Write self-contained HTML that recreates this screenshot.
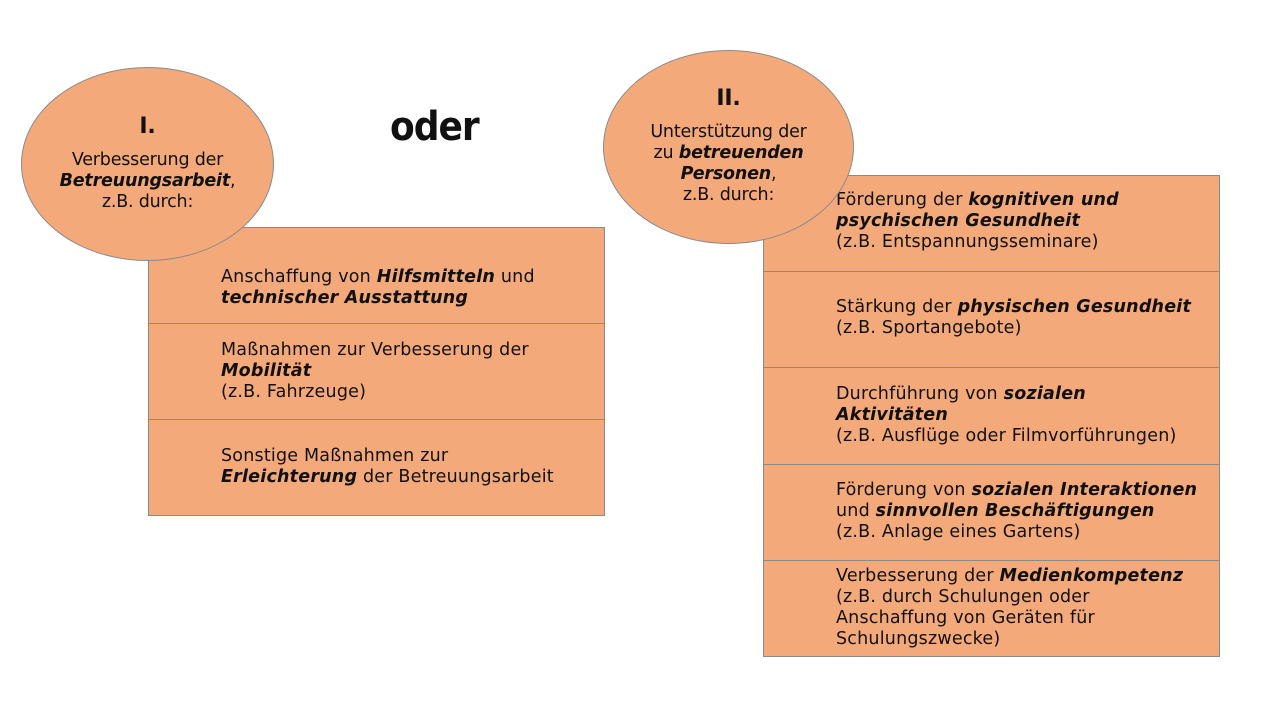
<!DOCTYPE html>
<html><head><meta charset="utf-8"><style>
body{margin:0;width:1280px;height:720px;background:#fff;position:relative;overflow:hidden;font-family:"DejaVu Sans","Liberation Sans",sans-serif;color:#111}
.b{position:absolute;background:#F4A97A;border:1px solid #8a8a8a;box-sizing:border-box}
.t{position:absolute;font-size:17.5px;line-height:21px;white-space:nowrap;letter-spacing:0.2px}
.e{position:absolute;background:#F4A97A;border:1px solid #8a8a8a;border-radius:50%;box-sizing:border-box;text-align:center;font-size:17.5px;line-height:21px;letter-spacing:-0.2px}
i{font-weight:bold}
</style></head><body>
<div class="b" style="left:148px;top:227px;width:457px;height:97px"></div>
<div class="b" style="left:148px;top:323px;width:457px;height:97px"></div>
<div class="b" style="left:148px;top:419px;width:457px;height:97px"></div>
<div class="t" style="left:221px;top:267px">Anschaffung von <i>Hilfsmitteln</i> und<br><i>technischer Ausstattung</i></div>
<div class="t" style="left:221px;top:340px">Maßnahmen zur Verbesserung der<br><i>Mobilität</i><br>(z.B. Fahrzeuge)</div>
<div class="t" style="left:221px;top:446px">Sonstige Maßnahmen zur<br><i>Erleichterung</i> der Betreuungsarbeit</div>
<div class="e" style="left:21px;top:67px;width:253px;height:194px"><div style="font-size:22px;font-weight:bold;margin-top:46px;line-height:26px">I.</div><div style="margin-top:10px">Verbesserung der<br><i>Betreuungsarbeit</i>,<br>z.B. durch:</div></div>
<div style="position:absolute;left:390px;top:104px;font-size:40px;font-weight:bold;font-family:'DejaVu Sans Condensed','DejaVu Sans',sans-serif;letter-spacing:-1px">oder</div>
<div class="b" style="left:763px;top:175px;width:457px;height:97px"></div>
<div class="b" style="left:763px;top:271px;width:457px;height:97px"></div>
<div class="b" style="left:763px;top:367px;width:457px;height:98px"></div>
<div class="b" style="left:763px;top:464px;width:457px;height:97px"></div>
<div class="b" style="left:763px;top:560px;width:457px;height:97px"></div>
<div class="t" style="left:836px;top:190px">Förderung der <i>kognitiven und</i><br><i>psychischen Gesundheit</i><br>(z.B. Entspannungsseminare)</div>
<div class="t" style="left:836px;top:297px">Stärkung der <i>physischen Gesundheit</i><br>(z.B. Sportangebote)</div>
<div class="t" style="left:836px;top:384px">Durchführung von <i>sozialen</i><br><i>Aktivitäten</i><br>(z.B. Ausflüge oder Filmvorführungen)</div>
<div class="t" style="left:836px;top:480px">Förderung von <i>sozialen Interaktionen</i><br>und <i>sinnvollen Beschäftigungen</i><br>(z.B. Anlage eines Gartens)</div>
<div class="t" style="left:836px;top:566px">Verbesserung der <i>Medienkompetenz</i><br>(z.B. durch Schulungen oder<br>Anschaffung von Geräten für<br>Schulungszwecke)</div>
<div class="e" style="left:603px;top:50px;width:251px;height:194px"><div style="font-size:22px;font-weight:bold;margin-top:35px;line-height:26px">II.</div><div style="margin-top:10px">Unterstützung der<br>zu <i>betreuenden</i><br><i>Personen</i>,<br>z.B. durch:</div></div>
</body></html>
